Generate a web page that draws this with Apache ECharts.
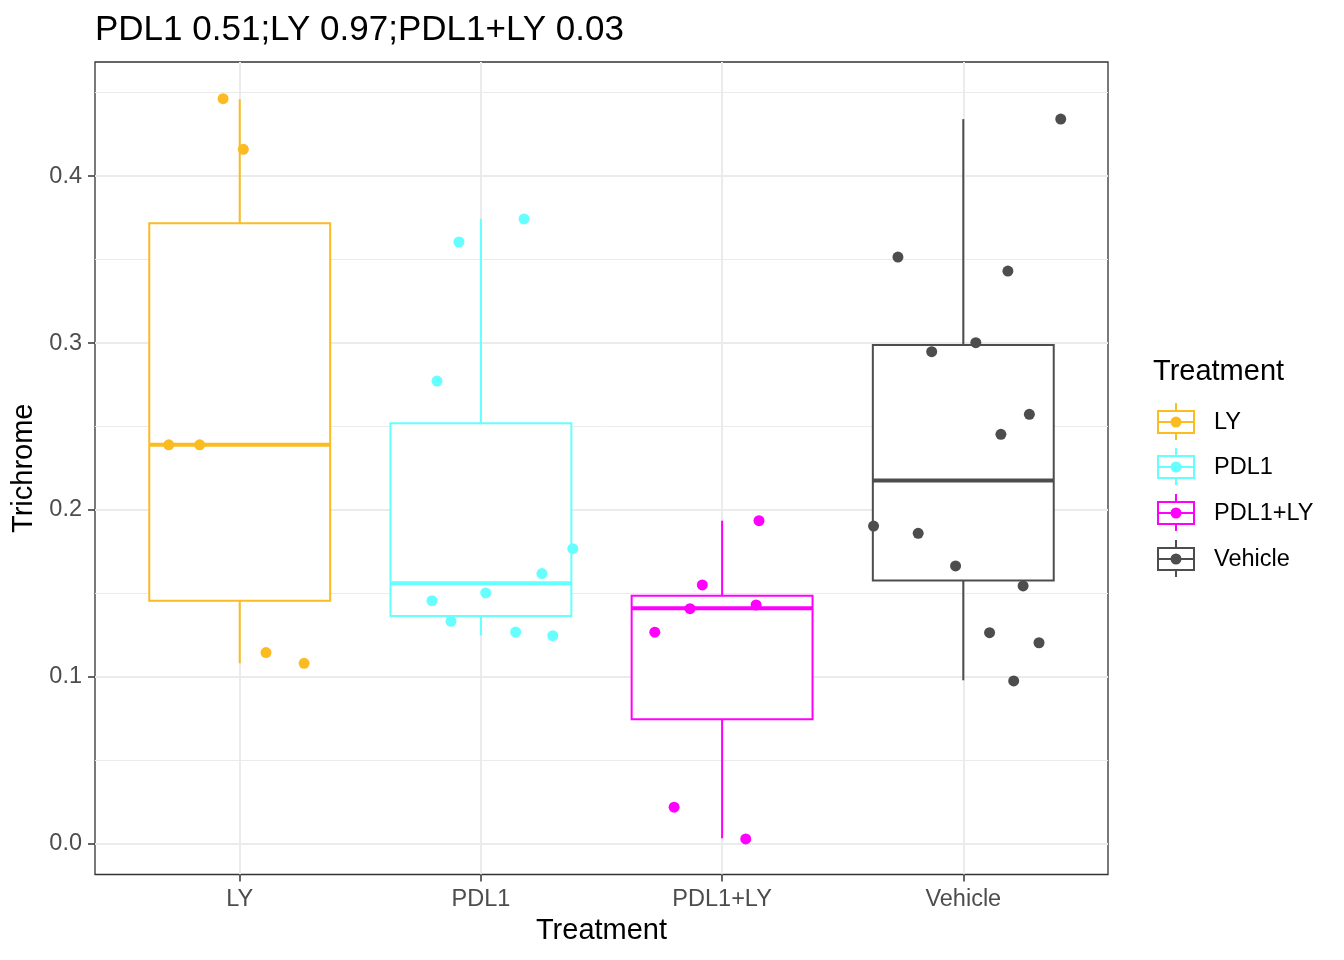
<!DOCTYPE html>
<html>
<head>
<meta charset="utf-8">
<script src="https://cdn.jsdelivr.net/npm/echarts@6/dist/echarts.min.js"></script>
<style>
html,body{margin:0;padding:0;background:#fff;}
#chart{width:1344px;height:960px;}
</style>
</head>
<body>
<div id="chart"></div>
<script>
// ---- data ----
const categories = ['LY', 'PDL1', 'PDL1+LY', 'Vehicle'];
const colors = ['#FBBC22', '#66FFFF', '#FF00FF', '#4D4D4D'];
const yTicks = [0, 0.1, 0.2, 0.3, 0.4];
const yMinorTicks = [0.05, 0.15, 0.25, 0.35, 0.45];
const titleText = 'PDL1 0.51;LY 0.97;PDL1+LY 0.03';

// box statistics: [lower whisker, Q1, median, Q3, upper whisker]
const boxLY = [0.1082, 0.1457, 0.2390, 0.3717, 0.4460];
const boxPDL1 = [0.1249, 0.1365, 0.1561, 0.2519, 0.3743];
const boxPDL1LY = [0.0034, 0.0747, 0.1411, 0.1487, 0.1936];
const boxVehicle = [0.0980, 0.1577, 0.2176, 0.2988, 0.4341];

// jittered observations (value, horizontal jitter in category units)
const lyValues = [0.4463, 0.4160, 0.2390, 0.2390, 0.1146, 0.1082];
const lyJitter = [-0.069, 0.015, -0.294, -0.166, 0.109, 0.267];
const pdl1Values = [0.3605, 0.3743, 0.2772, 0.1768, 0.1619, 0.1503, 0.1457, 0.1333, 0.1269, 0.1247];
const pdl1Jitter = [-0.091, 0.179, -0.182, 0.381, 0.253, 0.020, -0.203, -0.124, 0.144, 0.298];
const pdl1lyValues = [0.1936, 0.1551, 0.1409, 0.1431, 0.1268, 0.0220, 0.0030];
const pdl1lyJitter = [0.153, -0.082, -0.133, 0.141, -0.279, -0.199, 0.098];
const vehicleValues = [0.4341, 0.3515, 0.3431, 0.3002, 0.2948, 0.2573, 0.2453, 0.1904, 0.1860, 0.1665, 0.1545, 0.1265, 0.1205, 0.0976];
const vehicleJitter = [0.404, -0.271, 0.185, 0.052, -0.131, 0.274, 0.156, -0.372, -0.187, -0.032, 0.248, 0.109, 0.314, 0.209];

// ---- build chart ----
const FONT = "'Liberation Sans', Arial, Helvetica, sans-serif";
const boxes = [boxLY, boxPDL1, boxPDL1LY, boxVehicle];
const pointSets = [
  [lyValues, lyJitter],
  [pdl1Values, pdl1Jitter],
  [pdl1lyValues, pdl1lyJitter],
  [vehicleValues, vehicleJitter]
];
const catPositions = categories.map((c, i) => i + 1);

const boxData = boxes.map((b, i) => [catPositions[i]].concat(b));

function renderBox(params, api) {
  const x = api.value(0);
  const lo = api.value(1), q1 = api.value(2), med = api.value(3), q3 = api.value(4), hi = api.value(5);
  const w = api.size([0.75, 0])[0];
  const pLo = api.coord([x, lo]);
  const pQ1 = api.coord([x, q1]);
  const pMed = api.coord([x, med]);
  const pQ3 = api.coord([x, q3]);
  const pHi = api.coord([x, hi]);
  const color = colors[params.dataIndex];
  const cx = pMed[0];
  return {
    type: 'group',
    children: [
      { type: 'line', shape: { x1: cx, y1: pHi[1], x2: cx, y2: pQ3[1] }, style: { stroke: color, lineWidth: 2 } },
      { type: 'line', shape: { x1: cx, y1: pQ1[1], x2: cx, y2: pLo[1] }, style: { stroke: color, lineWidth: 2 } },
      { type: 'rect', shape: { x: cx - w / 2, y: pQ3[1], width: w, height: pQ1[1] - pQ3[1] }, style: { fill: '#ffffff', stroke: color, lineWidth: 2 } },
      { type: 'line', shape: { x1: cx - w / 2, y1: pMed[1], x2: cx + w / 2, y2: pMed[1] }, style: { stroke: color, lineWidth: 4 } }
    ]
  };
}

const series = [{
  type: 'custom',
  name: 'boxes',
  xAxisIndex: 0,
  yAxisIndex: 0,
  data: boxData,
  encode: { x: 0, y: [1, 2, 3, 4, 5] },
  renderItem: renderBox,
  silent: true,
  z: 2
}];

pointSets.forEach((ps, i) => {
  series.push({
    type: 'scatter',
    name: categories[i],
    xAxisIndex: 0,
    yAxisIndex: 0,
    data: ps[0].map((v, j) => [catPositions[i] + ps[1][j], v]),
    symbol: 'circle',
    symbolSize: 11,
    itemStyle: { color: colors[i], opacity: 1 },
    silent: true,
    z: 3
  });
});

// legend drawn as graphic keys
const legendGraphics = [{
  type: 'text',
  left: 1153, top: 357,
  style: { text: 'Treatment', font: '29px ' + FONT, fill: '#000000' }
}];
const rowY = [422, 467, 513, 559];
categories.forEach((c, i) => {
  const cy = rowY[i];
  const cx = 1176;
  legendGraphics.push({
    type: 'group',
    children: [
      { type: 'line', shape: { x1: cx, y1: cy - 19, x2: cx, y2: cy + 18 }, style: { stroke: colors[i], lineWidth: 2 } },
      { type: 'rect', shape: { x: 1158, y: cy - 11, width: 36, height: 22 }, style: { fill: '#ffffff', stroke: colors[i], lineWidth: 2 } },
      { type: 'line', shape: { x1: 1158, y1: cy, x2: 1194, y2: cy }, style: { stroke: colors[i], lineWidth: 2 } },
      { type: 'circle', shape: { cx: cx, cy: cy, r: 5.5 }, style: { fill: colors[i] } },
      { type: 'text', x: 1214, y: cy + 1, style: { text: c, font: '23.5px ' + FONT, fill: '#000000', verticalAlign: 'middle', align: 'left' } }
    ]
  });
});

const yMin = -0.0183, yMax = 0.4683;

const option = {
  animation: false,
  backgroundColor: '#ffffff',
  textStyle: { fontFamily: FONT },
  title: {
    text: titleText,
    left: 90, top: 8,
    textStyle: { fontFamily: FONT, fontSize: 35, fontWeight: 'normal', color: '#000000' }
  },
  grid: {
    left: 95, top: 62, right: 236, bottom: 85.5,
    show: true, borderColor: '#333333', borderWidth: 1.3, backgroundColor: 'transparent',
    containLabel: false
  },
  xAxis: [{
    type: 'value',
    min: 0.4, max: 4.6,
    position: 'bottom',
    name: 'Treatment',
    nameLocation: 'middle',
    nameGap: 42,
    nameTextStyle: { fontFamily: FONT, fontSize: 29, color: '#000000' },
    axisLine: { show: false, onZero: false },
    axisTick: { show: true, inside: false, length: 7, lineStyle: { color: '#333333', width: 1.5 }, customValues: catPositions },
    axisLabel: {
      show: true, margin: 13, fontSize: 23.5, color: '#4D4D4D', fontFamily: FONT,
      customValues: catPositions,
      formatter: v => categories[Math.round(v) - 1] || ''
    },
    splitLine: { show: true, lineStyle: { color: '#EBEBEB', width: 2 } },
    minorSplitLine: { show: false }
  }],
  yAxis: [{
    type: 'value',
    min: yMin, max: yMax,
    position: 'left',
    name: 'Trichrome',
    nameLocation: 'middle',
    nameGap: 47,
    nameRotate: 90,
    nameTextStyle: { fontFamily: FONT, fontSize: 29, color: '#000000' },
    axisLine: { show: false, onZero: false },
    axisTick: { show: true, inside: false, length: 7, lineStyle: { color: '#333333', width: 1.5 }, customValues: yTicks },
    axisLabel: {
      show: true, margin: 13, fontSize: 23.5, color: '#4D4D4D', fontFamily: FONT,
      customValues: yTicks,
      formatter: v => v.toFixed(1)
    },
    splitLine: { show: true, lineStyle: { color: '#EBEBEB', width: 2 } }
  }, {
    type: 'value',
    min: yMin, max: yMax,
    position: 'left',
    axisLine: { show: false, onZero: false },
    axisTick: { show: false, customValues: yMinorTicks },
    axisLabel: { show: false, customValues: yMinorTicks },
    splitLine: { show: true, lineStyle: { color: '#EBEBEB', width: 1 } }
  }],
  graphic: legendGraphics,
  series: series
};

const chart = echarts.init(document.getElementById('chart'), null, { renderer: 'canvas' });
chart.setOption(option);
</script>
</body>
</html>
